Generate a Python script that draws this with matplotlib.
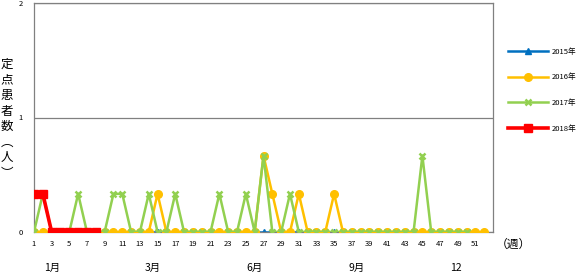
import matplotlib
matplotlib.use("Agg")
import matplotlib.pyplot as plt
import matplotlib.transforms as mtransforms

plt.rcParams["font.family"] = ["Noto Sans CJK JP", "DejaVu Sans"]

weeks = list(range(1, 53))
v = 1 / 3

cases_2015 = [0] * 52
cases_2016 = [0] * 52
for wk, val in [(15, v), (27, 2 * v), (28, v), (31, v), (35, v)]:
    cases_2016[wk - 1] = val

cases_2017 = [0] * 50
for wk, val in [(2, v), (6, v), (10, v), (11, v), (14, v), (17, v), (22, v),
                (25, v), (27, 2 * v), (30, v), (45, 2 * v)]:
    cases_2017[wk - 1] = val

cases_2018 = [v, v, 0, 0, 0, 0, 0, 0]

x_ticks = list(range(1, 53, 2))
month_labels = ["1月", "3月", "6月", "9月", "12"]
month_weeks = [3, 14.5, 26, 37.6, 48.8]

fig = plt.figure(figsize=(5.81, 2.73), dpi=100)
ax = fig.add_axes([34 / 581, 1 - 232 / 273, (493 - 34) / 581, (232 - 3) / 273])

ax.plot(weeks, cases_2015, color="#0070C0", lw=1.8, marker="^", ms=4, label="2015年", zorder=2)
ax.plot(weeks, cases_2016, color="#FFC000", lw=1.8, marker="o", ms=5.5, label="2016年", zorder=3)
ax.plot(weeks[:len(cases_2017)], cases_2017, color="#92D050", lw=1.8, marker="x", ms=4.5,
        mew=1.8, label="2017年", zorder=4)
ax.plot(weeks[:len(cases_2018)], cases_2018, color="#FF0000", lw=2.6, marker="s", ms=5.5,
        label="2018年", zorder=5)

ax.set_xlim(1, 53)
ax.set_ylim(0, 2)
ax.set_yticks([0, 1, 2])
ax.set_xticks(x_ticks)
ax.tick_params(axis="both", length=0, labelsize=5.5, pad=6)
ax.tick_params(axis="y", pad=8)
ax.grid(axis="y", color="#808080", lw=0.9)
for s in ax.spines.values():
    s.set_color("#808080")
    s.set_linewidth(0.9)

trans = mtransforms.blended_transform_factory(ax.transData, fig.transFigure)
for lab, wk in zip(month_labels, month_weeks):
    ax.text(wk, 1 - 268 / 273, lab, transform=trans, ha="center", va="center", fontsize=7.5)

fig.text(513 / 581, 1 - 244 / 273, "（週）", ha="center", va="center", fontsize=8.5)
fig.text(7 / 581, 1 - 119 / 273, "\n".join("定点患者数︵人︶"), ha="center", va="center",
         fontsize=9, linespacing=1.25)

fig.legend(loc="upper left", bbox_to_anchor=(501 / 581, 1 - 41 / 273), frameon=False,
           fontsize=5.5, handlelength=5.3, labelspacing=2.3, handletextpad=0.4, markerscale=1.0)

fig.savefig("out.png", dpi=100)
